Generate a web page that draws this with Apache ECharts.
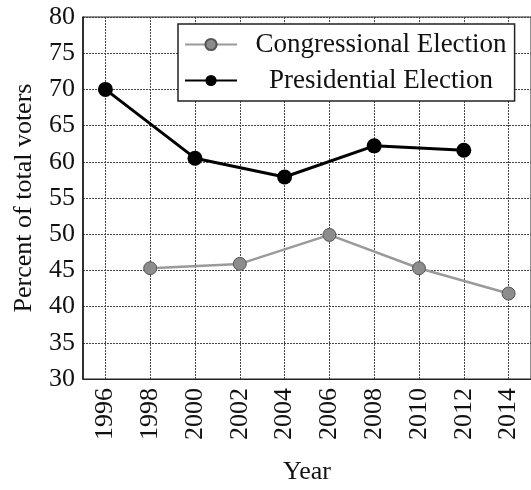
<!DOCTYPE html>
<html>
<head>
<meta charset="utf-8">
<script src="https://cdn.jsdelivr.net/npm/echarts@6/dist/echarts.min.js"></script>
<style>
  html, body { margin: 0; padding: 0; background: #fff; }
  #chart { width: 531px; height: 490px; }
</style>
</head>
<body>
<div id="chart"></div>
<script>
// years shown on the axis, with one empty year on each side
var years = ['1995', '1996', '1997', '1998', '1999', '2000', '2001', '2002', '2003', '2004',
    '2005', '2006', '2007', '2008', '2009', '2010', '2011', '2012', '2013', '2014', '2015'];

var congressYears = ['1998', '2002', '2006', '2010', '2014'];
var congressValues = [45.3, 45.9, 49.9, 45.3, 41.8];

var presYears = ['1996', '2000', '2004', '2008', '2012'];
var presValues = [70.0, 60.5, 57.9, 62.2, 61.6];

var serif = 'Liberation Serif';

function pairs(xs, ys) {
    return xs.map(function (x, i) { return [x, ys[i]]; });
}

function evenYear(index, value) {
    return parseInt(value, 10) % 2 === 0;
}

var chart = echarts.init(document.getElementById('chart'));

var option = {
    backgroundColor: '#fff',
    animation: false,
    grid: {
        left: 83, top: 17, width: 451, height: 368,
        show: true, borderColor: '#222', borderWidth: 1
    },
    legend: {
        left: 178, top: 24,
        orient: 'vertical',
        itemWidth: 52, itemHeight: 14, itemGap: 9,
        padding: [7, 8, 7, 6],
        backgroundColor: '#fff',
        borderColor: '#222', borderWidth: 1.5,
        formatter: function (name) { return '{t|' + name + '}'; },
        textStyle: {
            fontFamily: serif, fontSize: 27, color: '#111',
            rich: { t: { width: 278, align: 'center', fontFamily: serif, fontSize: 27, color: '#111' } }
        },
        data: ['Congressional Election', 'Presidential Election']
    },
    xAxis: {
        type: 'category',
        data: years,
        boundaryGap: false,
        name: 'Year',
        nameLocation: 'middle',
        nameGap: 80,
        nameTextStyle: { fontFamily: serif, fontSize: 26, color: '#111' },
        axisLine: { lineStyle: { color: '#222', width: 1.2 } },
        axisTick: { show: false },
        axisLabel: {
            interval: evenYear,
            rotate: 90,
            margin: 9,
            fontFamily: serif, fontSize: 26, color: '#111'
        },
        splitLine: {
            show: true,
            interval: evenYear,
            lineStyle: { color: '#444', type: [2, 1], width: 1 }
        }
    },
    yAxis: {
        type: 'value',
        min: 30, max: 80, interval: 5,
        name: 'Percent of total voters',
        nameLocation: 'middle',
        nameGap: 46,
        nameTextStyle: { fontFamily: serif, fontSize: 26, color: '#111' },
        axisLine: { show: true, lineStyle: { color: '#111', width: 1.5 } },
        axisTick: { show: false },
        axisLabel: { margin: 8, fontFamily: serif, fontSize: 26, color: '#111' },
        splitLine: { lineStyle: { color: '#444', type: [2, 1], width: 1 } }
    },
    series: [
        {
            name: 'Congressional Election',
            type: 'line',
            data: pairs(congressYears, congressValues),
            symbol: 'circle',
            symbolSize: 13,
            itemStyle: { color: '#8c8c8c', borderColor: '#555', borderWidth: 1 },
            lineStyle: { color: '#9a9a9a', width: 2.5 }
        },
        {
            name: 'Presidential Election',
            type: 'line',
            data: pairs(presYears, presValues),
            symbol: 'circle',
            symbolSize: 15,
            itemStyle: { color: '#000' },
            lineStyle: { color: '#000', width: 3 }
        }
    ]
};

chart.setOption(option);
</script>
</body>
</html>
